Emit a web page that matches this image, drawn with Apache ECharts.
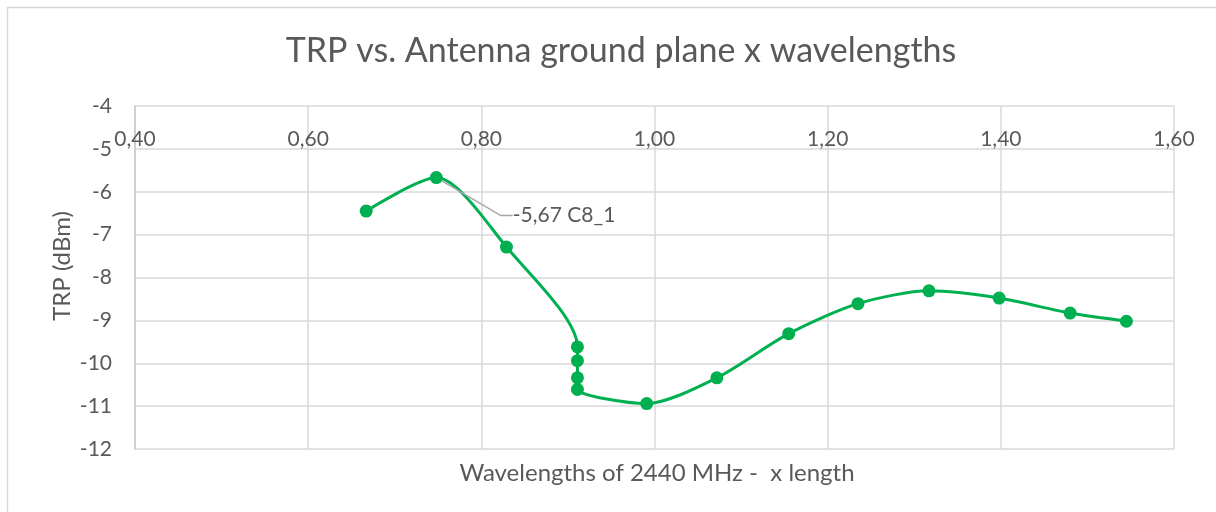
<!DOCTYPE html>
<html>
<head>
<meta charset="utf-8">
<script src="https://cdn.jsdelivr.net/npm/echarts@6/dist/echarts.min.js"></script>
<style>
  html, body { margin: 0; padding: 0; background: #fff; }
  #main { width: 1216px; height: 512px; }
</style>
</head>
<body>
<div id="main"></div>
<script>
const wavelengths = [0.667, 0.748, 0.829, 0.911, 0.911, 0.911, 0.911, 0.991, 1.072, 1.155, 1.235, 1.317, 1.398, 1.480, 1.545];
const trpValues = [-6.45, -5.67, -7.29, -9.62, -9.94, -10.34, -10.61, -10.94, -10.34, -9.31, -8.61, -8.31, -8.48, -8.83, -9.02];
const labelIndex = 1;
const labelText = '-5,67 C8_1';

const xTicks = { min: 0.4, max: 1.6, interval: 0.2 };
const yTicks = { min: -12, max: -4, interval: 1 };

const textColor = '#595959';
const gridColor = '#d9d9d9';
const lineColor = '#00b050';
const font = 'Lato';

const seriesData = wavelengths.map((x, i) => {
  const item = { value: [x, trpValues[i]] };
  if (i === labelIndex) {
    item.label = { show: true, formatter: labelText };
  }
  return item;
});

var myChart = echarts.init(document.getElementById('main'));

myChart.setOption({
  animation: false,
  backgroundColor: '#fff',
  title: [
    {
      text: 'TRP vs. Antenna ground plane x wavelengths',
      left: 616,
      top: 29,
      textAlign: 'center',
      textStyle: { color: textColor, fontFamily: font, fontSize: 34, fontWeight: 'normal' }
    },
    {
      text: 'Wavelengths of 2440 MHz -  x length',
      left: 652,
      top: 456,
      textAlign: 'center',
      textStyle: { color: textColor, fontFamily: font, fontSize: 24, fontWeight: 'normal' }
    }
  ],
  graphic: [
    {
      type: 'rect',
      shape: { x: 7.5, y: 7.5, width: 1230, height: 520 },
      style: { fill: 'none', stroke: gridColor, lineWidth: 1.5 },
      silent: true
    },
    {
      // y axis title
      type: 'text',
      x: 62,
      y: 266,
      rotation: Math.PI / 2,
      style: {
        text: 'TRP (dBm)',
        fill: textColor,
        font: '24px Lato',
        align: 'center',
        verticalAlign: 'middle'
      },
      silent: true
    }
  ],
  grid: { left: 135, top: 106, right: 42, bottom: 63 },
  xAxis: {
    type: 'value',
    position: 'top',
    min: xTicks.min,
    max: xTicks.max,
    interval: xTicks.interval,
    axisLine: { show: false },
    axisTick: { show: false },
    axisLabel: {
      inside: true,
      margin: 23,
      color: textColor,
      fontFamily: font,
      fontSize: 21,
      formatter: v => v.toFixed(2).replace('.', ',')
    },
    splitLine: { show: true, lineStyle: { color: gridColor, width: 1.5 } }
  },
  yAxis: {
    type: 'value',
    min: yTicks.min,
    max: yTicks.max,
    interval: yTicks.interval,
    axisLine: { show: true, lineStyle: { color: '#c8c8c8', width: 1.5 } },
    axisTick: { show: false },
    axisLabel: { color: textColor, fontFamily: font, fontSize: 21, margin: 23 },
    splitLine: { show: true, lineStyle: { color: gridColor, width: 1.5 } }
  },
  series: [
    {
      name: 'C8_1',
      type: 'line',
      data: seriesData,
      smooth: 0.27,
      symbol: 'circle',
      symbolSize: 13,
      itemStyle: { color: lineColor },
      lineStyle: { color: lineColor, width: 3 },
      label: {
        show: false,
        position: 'right',
        distance: 5,
        color: textColor,
        fontFamily: font,
        fontSize: 21
      },
      labelLayout: { dx: 65, dy: 38 },
      labelLine: {
        show: true,
        length2: 12,
        lineStyle: { color: '#a6a6a6', width: 1.5 }
      }
    }
  ]
});
</script>
</body>
</html>
